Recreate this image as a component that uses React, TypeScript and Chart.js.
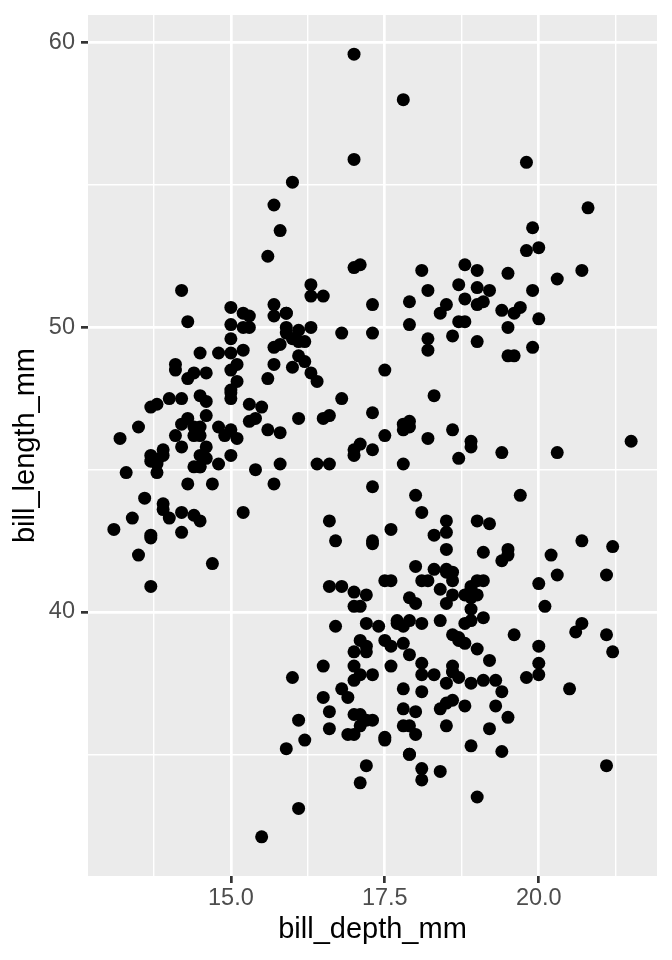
import React, { useEffect, useRef } from "react";
import { Chart, registerables } from "chart.js";

Chart.register(...registerables);

// [bill_depth_mm, bill_length_mm]
const adelie: [number, number][] = [
  [18.7,39.1],[17.4,39.5],[18.0,40.3],[19.3,36.7],[20.6,39.3],[17.8,38.9],[19.6,39.2],[18.1,34.1],[20.2,42.0],[17.1,37.8],
  [17.3,37.8],[17.6,41.1],[21.2,38.6],[21.1,34.6],[17.8,36.6],[19.0,38.7],[20.7,42.5],[18.4,34.4],[21.5,46.0],
  [18.3,37.8],[18.7,37.7],[19.2,35.9],[18.1,38.2],[17.2,38.8],[18.9,35.3],[18.6,40.6],[17.9,40.5],[18.6,37.9],[18.9,40.5],
  [16.7,39.5],[18.1,37.2],[17.8,39.5],[18.9,40.9],[17.0,36.4],[21.1,39.2],[20.0,38.8],[18.5,42.2],[19.3,37.6],[19.1,39.8],
  [18.0,36.5],[18.4,40.8],[18.5,36.0],[19.7,44.1],[16.9,37.0],[18.8,39.6],[19.0,41.1],[18.9,37.5],[17.9,36.0],[21.2,42.3],
  [17.7,39.6],[18.9,40.1],[17.9,35.0],[19.5,42.0],[18.1,34.5],[18.6,41.4],[17.5,39.0],[18.8,40.6],[16.6,36.5],[19.1,37.6],
  [16.9,35.7],[21.1,41.3],[17.0,37.6],[18.2,41.1],[17.1,36.4],[18.0,41.6],[16.2,35.5],[19.1,41.1],
  [16.6,35.9],[19.4,41.8],[19.0,33.5],[18.4,39.7],[17.2,39.6],[18.9,45.8],[17.5,35.5],[18.5,42.8],[16.8,40.9],[19.4,37.2],
  [16.1,36.2],[19.1,42.1],[17.2,34.6],[17.6,42.9],[18.8,36.7],[19.4,35.1],
  [17.8,37.3],[20.3,41.3],[19.5,36.3],[18.6,36.9],[19.2,38.3],[18.8,38.9],[18.0,35.7],[18.1,41.1],[17.1,34.0],[18.1,39.6],
  [17.3,36.2],[18.9,40.8],[18.6,38.1],[18.5,40.3],[16.1,33.1],[18.5,43.2],
  [17.9,35.0],[20.0,41.0],[16.0,37.7],[20.0,37.8],[18.6,37.9],[18.9,39.7],[17.2,38.6],[20.0,38.2],[17.0,38.1],[19.0,43.2],
  [16.5,38.1],[20.3,45.6],[17.7,39.7],[19.5,42.2],[20.7,39.6],[18.3,42.7],
  [17.0,38.6],[20.5,37.3],[17.0,35.7],[18.6,41.1],[17.2,36.2],[19.8,37.7],[17.0,40.2],[18.5,41.4],[15.9,35.2],[19.0,40.6],
  [17.6,38.8],[18.3,41.5],[17.1,39.0],[18.0,44.1],[17.9,38.5],[19.2,43.1],
  [18.5,36.8],[18.5,37.5],[17.6,38.1],[17.5,41.1],[17.5,35.6],[20.1,40.2],[16.5,37.0],[17.9,39.7],[17.1,40.2],[17.2,40.6],
  [15.5,32.1],[17.0,40.7],[16.8,37.3],[18.7,39.0],[18.6,39.2],[18.4,36.6],[17.8,36.0],[18.1,37.8],[17.1,36.0],[18.5,41.5],
];

const gentoo: [number, number][] = [
  [13.2,46.1],[16.3,50.0],[14.1,48.7],[15.2,50.0],[14.5,47.6],[13.5,46.5],[14.6,45.4],[15.3,46.7],[13.4,43.3],[15.4,46.8],
  [13.7,40.9],[16.1,49.0],[13.7,45.5],[14.6,48.4],[14.6,45.8],[15.7,49.3],[13.5,42.0],[15.2,49.2],[14.5,46.2],[15.1,48.7],
  [14.3,50.2],[14.5,45.1],[14.5,46.5],[15.8,46.3],[13.1,42.9],[15.1,46.1],[14.3,44.5],[15.0,47.8],[14.3,48.2],[15.3,50.0],
  [15.3,47.3],[14.2,42.8],[14.5,45.1],[17.0,59.6],[14.8,49.1],[16.3,48.4],[13.7,42.6],[17.3,44.4],[13.6,44.0],[15.7,48.7],
  [13.7,42.7],[16.0,49.6],[13.7,45.3],[15.0,49.6],[15.9,50.5],[13.9,43.6],[13.9,45.5],[15.9,50.5],[13.3,44.9],[15.8,45.2],
  [14.2,46.6],[14.1,48.5],[14.4,45.1],[15.0,50.1],[14.4,46.5],[15.4,45.0],[13.9,43.8],[15.0,45.5],[14.5,43.2],[15.3,50.4],
  [13.8,45.3],[14.9,46.2],[13.9,45.7],[15.7,54.3],[14.2,45.8],[16.8,49.8],[14.4,46.2],[16.2,49.5],[14.2,43.5],[15.0,50.7],
  [15.0,47.7],[15.6,46.4],[15.6,48.2],[14.8,46.5],[15.0,46.4],[16.0,48.6],[14.2,47.5],[16.3,51.1],[13.8,45.2],[16.4,45.2],
  [14.5,49.1],[15.6,52.5],[14.6,47.4],[15.9,50.0],[13.8,44.9],[17.3,50.8],[14.4,43.4],[14.2,51.3],[14.0,47.5],[17.0,52.1],
  [15.0,47.5],[17.1,52.2],[14.5,45.5],[16.1,49.5],[14.7,44.5],[15.7,50.8],[15.8,49.4],[14.6,46.9],[14.4,48.4],[16.5,51.1],
  [15.0,48.5],[17.0,55.9],[15.5,47.2],[15.0,49.1],[13.8,47.3],[16.1,46.8],[14.7,41.7],[15.8,53.4],[14.0,43.3],[15.1,48.1],
  [15.2,50.5],[15.9,49.8],[15.2,43.5],[16.3,51.5],[14.1,46.2],[16.0,55.1],[15.7,44.5],[16.2,48.8],[13.7,47.2],[14.3,46.8],
  [15.7,50.4],[14.8,45.2],[16.1,49.9],
];

const chinstrap: [number, number][] = [
  [17.9,46.5],[19.5,50.0],[19.2,51.3],[18.7,45.4],[19.8,52.7],[17.8,45.2],[18.2,46.1],[18.2,51.3],[18.9,46.0],[19.9,51.3],
  [17.8,46.6],[20.3,51.7],[17.3,47.0],[18.1,52.0],[17.1,45.9],[19.6,50.5],[20.0,50.3],[17.8,58.0],[18.6,46.4],[18.2,49.2],
  [17.3,42.4],[17.5,48.5],[16.6,43.2],[19.4,50.6],[17.9,46.7],[19.0,52.0],[18.4,50.5],[19.0,49.5],[17.8,46.4],[20.0,52.8],
  [16.6,40.9],[20.8,54.2],[16.7,42.5],[18.8,51.0],[18.6,49.7],[16.8,47.5],[18.3,47.6],[20.7,52.0],[16.6,46.9],[19.9,53.5],
  [19.5,49.0],[17.5,46.2],[19.1,50.9],[17.0,45.5],[17.9,50.9],[18.5,50.8],[17.9,50.1],[19.6,49.0],[18.7,51.5],[17.3,49.8],
  [16.4,48.1],[19.0,51.4],[17.3,45.7],[19.7,50.7],[17.3,42.5],[18.8,52.2],[16.6,45.2],[19.9,49.3],[18.8,50.2],[19.4,45.6],
  [19.5,51.9],[16.5,46.8],[17.0,45.7],[19.8,55.8],[18.1,43.5],[18.2,49.6],[19.0,50.8],[18.7,50.2],
];

const xRange = [12.68, 21.92];
const yRange = [30.725, 60.975];
const xMajor = [15, 17.5, 20];
const xMajorLabels = ["15.0", "17.5", "20.0"];
const xMinor = [13.75, 16.25, 18.75, 21.25];
const yMajor = [40, 50, 60];
const yMajorLabels = ["40", "50", "60"];
const yMinor = [35, 45, 55];

const FONT = "'Liberation Sans', Arial, Helvetica, sans-serif";

const isMajorX = (v: number) => xMajor.some((m) => Math.abs(m - v) < 1e-6);
const isMajorY = (v: number) => yMajor.some((m) => Math.abs(m - v) < 1e-6);

const panelBg = {
  id: "panelBg",
  beforeDraw(chart: any) {
    const { ctx, chartArea } = chart;
    if (!chartArea) return;
    ctx.save();
    ctx.fillStyle = "#EBEBEB";
    ctx.fillRect(chartArea.left, chartArea.top, chartArea.right - chartArea.left, chartArea.bottom - chartArea.top);
    ctx.restore();
  },
};

export default function App() {
  const ref = useRef<HTMLCanvasElement | null>(null);

  useEffect(() => {
    if (!ref.current) return;
    const points = [...adelie, ...gentoo, ...chinstrap].map(([x, y]) => ({ x, y }));
    const chart = new Chart(ref.current, {
      type: "scatter",
      data: {
        datasets: [
          {
            data: points,
            pointRadius: 6.5,
            pointHoverRadius: 6.5,
            pointBackgroundColor: "#000000",
            pointBorderWidth: 0,
            borderColor: "#000000",
          },
        ],
      },
      plugins: [panelBg],
      options: {
        animation: false,
        responsive: false,
        events: [],
        layout: { padding: { top: 15, right: 15, left: 0, bottom: 0 } },
        plugins: {
          legend: { display: false },
          tooltip: { enabled: false },
        },
        scales: {
          x: {
            type: "linear",
            min: xRange[0],
            max: xRange[1],
            bounds: "data",
            afterBuildTicks: (s: any) => {
              s.ticks = [...xMinor, ...xMajor].sort((a, b) => a - b).map((v) => ({ value: v }));
            },
            afterFit: (s: any) => {
              s.height = 84;
              s.paddingLeft = 0;
              s.paddingRight = 0;
              s.paddingTop = 0;
              s.paddingBottom = 0;
            },
            border: { display: false },
            grid: {
              color: "#FFFFFF",
              lineWidth: (c: any) => (c.tick && isMajorX(c.tick.value) ? 2.7 : 1.4),
              drawTicks: true,
              tickLength: 7,
              tickColor: (c: any) => (c.tick && isMajorX(c.tick.value) ? "#333333" : "rgba(0,0,0,0)"),
              tickWidth: 2.7,
            },
            ticks: {
              autoSkip: false,
              maxRotation: 0,
              minRotation: 0,
              padding: 1,
              color: "#4D4D4D",
              font: { family: FONT, size: 23.5, lineHeight: 1.2 },
              callback: (v: any) => {
                const i = xMajor.findIndex((m) => Math.abs(m - Number(v)) < 1e-6);
                return i >= 0 ? xMajorLabels[i] : "";
              },
            },
            title: {
              display: true,
              text: "bill_depth_mm",
              color: "#000000",
              font: { family: FONT, size: 29, lineHeight: 1.2 },
              padding: { top: 0, bottom: 12.6 },
            },
          },
          y: {
            type: "linear",
            min: yRange[0],
            max: yRange[1],
            bounds: "data",
            afterBuildTicks: (s: any) => {
              s.ticks = [...yMinor, ...yMajor].sort((a, b) => a - b).map((v) => ({ value: v }));
            },
            afterFit: (s: any) => {
              s.width = 88;
              s.paddingLeft = 0;
              s.paddingRight = 0;
              s.paddingTop = 0;
              s.paddingBottom = 0;
            },
            border: { display: false },
            grid: {
              color: "#FFFFFF",
              lineWidth: (c: any) => (c.tick && isMajorY(c.tick.value) ? 2.7 : 1.4),
              drawTicks: true,
              tickLength: 7,
              tickColor: (c: any) => (c.tick && isMajorY(c.tick.value) ? "#333333" : "rgba(0,0,0,0)"),
              tickWidth: 2.7,
            },
            ticks: {
              autoSkip: false,
              padding: 6,
              color: "#4D4D4D",
              font: { family: FONT, size: 23.5, lineHeight: 1.2 },
              callback: (v: any) => {
                const i = yMajor.findIndex((m) => Math.abs(m - Number(v)) < 1e-6);
                return i >= 0 ? yMajorLabels[i] : "";
              },
            },
            title: {
              display: true,
              text: "bill_length_mm",
              color: "#000000",
              font: { family: FONT, size: 29, lineHeight: 1.2 },
              padding: { top: 8.6, bottom: 0 },
            },
          },
        },
      },
    } as any);
    return () => chart.destroy();
  }, []);

  return (
    <div style={{ position: "absolute", left: 0, top: 0, width: 672, height: 960, background: "#FFFFFF" }}>
      <canvas ref={ref} width={672} height={960} style={{ width: 672, height: 960, display: "block" }} />
    </div>
  );
}
